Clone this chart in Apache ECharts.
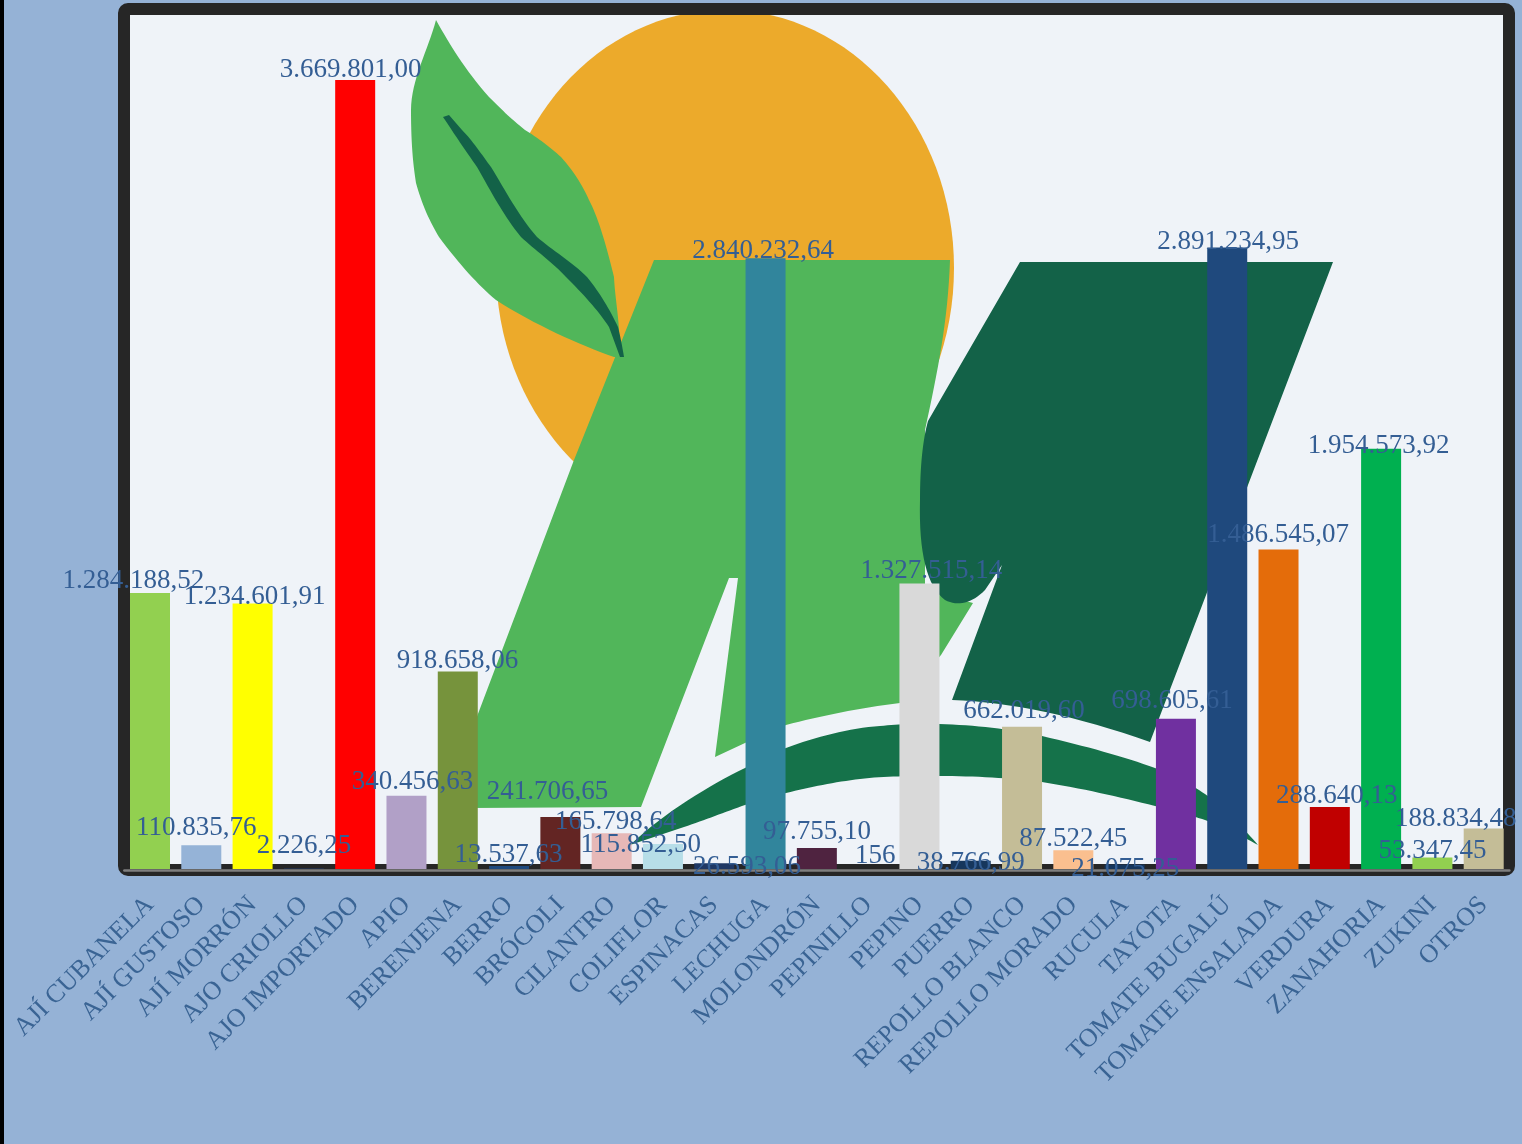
<!DOCTYPE html>
<html><head><meta charset="utf-8">
<style>html,body{margin:0;padding:0;background:#95B2D6;overflow:hidden}#c{width:1522px;height:1144px}</style>
<script src="https://cdn.jsdelivr.net/npm/echarts@6/dist/echarts.min.js"></script>
</head><body><div id="c"></div>
<script>
const categories = ['AJÍ CUBANELA','AJÍ GUSTOSO','AJÍ MORRÓN','AJO CRIOLLO','AJO IMPORTADO','APIO','BERENJENA','BERRO','BRÓCOLI','CILANTRO','COLIFLOR','ESPINACAS','LECHUGA','MOLONDRÓN','PEPINILLO','PEPINO','PUERRO','REPOLLO BLANCO','REPOLLO MORADO','RUCULA','TAYOTA','TOMATE BUGALÚ','TOMATE ENSALADA','VERDURA','ZANAHORIA','ZUKINI','OTROS'];
const values = [1284188.52,110835.76,1234601.91,2226.25,3669801.00,340456.63,918658.06,13537.63,241706.65,165798.64,115852.50,26593.06,2840232.64,97755.10,156,1327515.14,38766.99,662019.60,87522.45,21075.25,698605.61,2891234.95,1486545.07,288640.13,1954573.92,53347.45,188834.48];
const valueLabels = ['1.284.188,52','110.835,76','1.234.601,91','2.226,25','3.669.801,00','340.456,63','918.658,06','13.537,63','241.706,65','165.798,64','115.852,50','26.593,06','2.840.232,64','97.755,10','156','1.327.515,14','38.766,99','662.019,60','87.522,45','21.075,25','698.605,61','2.891.234,95','1.486.545,07','288.640,13','1.954.573,92','53.347,45','188.834,48'];
const barColors = ['#92D050','#95B3D7','#FFFF00','#1F3864','#FF0000','#B1A0C7','#76933C','#1F497D','#632523','#E6B8B7','#B7DEE8','#1F3864','#31859C','#4F2340','#1F3864','#D9D9D9','#16365C','#C4BD97','#FABF8F','#16365C','#7030A0','#1F497D','#E46C0A','#C00000','#00B050','#92D050','#C4BD97'];
// label displacement as laid out in the source chart
const labelDx = [-16.5,-5,2,0,-4.6,6,-0.2,-0.5,-12.8,4,-22.3,32.8,-2.5,0.2,7,12,0,2,0,0.6,-4,1,-0.3,7,-2.5,0,-28];
const labelDy = [0,-5,5,-11,2,-2,1,1,-13,1,13,16,5,-4,-1,-1,14,-4,1,16,-6,7,-2,1,9,5,3];

// decorative logo behind the plot
const logoOrange = '#ECAA2B', logoLeaf = '#51B65A', logoDark = '#136248', logoArc = '#15724A';
const leafPath = 'M436 20 C 428 50 411 80 411 110 C 411 150 414 170 416 183 C 422 205 430 222 439 237 C 460 265 478 285 496 300 C 535 325 580 345 614 357 L 620 357 C 620 320 615 300 614 277 C 605 240 597 215 589 200 C 580 180 570 167 561 157 C 550 147 538 138 525 130 C 510 118 500 108 489 97 C 465 70 450 45 436 20 Z';
const veinPath = 'M443 117 C 455 135 465 150 477 167 C 490 190 505 218 521 237 C 535 250 552 262 566 277 C 582 293 598 310 609 327 L 620 357 L 624 357 C 622 345 620 335 618 327 C 610 310 600 293 587 277 C 572 262 552 250 537 237 C 520 218 505 190 491 167 C 482 155 472 140 462 130 L 449 115 Z';
const bigGreenPath = 'M654 260 L950 260 C 948 320 938 370 925 430 L925 590 L973 603 L941 655 L900 703 C 860 708 820 716 786 725 L745 743 L715 757 L738 578 L729 578 L641 807 L470 808 L470 735 L574 460 Z';
const darkPath = 'M1020 262 L1333 262 L1150 742 Q 1040 703 952 700 L1002 565 L985 590 Q 965 610 945 600 Q 918 580 920 500 Q 920 450 928 421 Z';
const arcPath = 'M630 845 C 665 812 710 785 745 768 C 760 760 775 752 786 748 C 815 737 850 728 880 726 C 900 724 920 723 939 724 C 975 725 1010 729 1042 736 C 1085 746 1125 757 1155 768 C 1175 776 1190 784 1205 794 C 1225 808 1245 830 1258 845 C 1240 835 1222 826 1205 820 C 1190 815 1172 810 1155 806 C 1120 797 1080 788 1042 782 C 1010 778 975 776 939 776 C 910 776 885 776 860 779 C 835 782 810 787 786 793 C 772 797 758 801 745 805 C 725 812 705 820 684 827 Z';

function flatten(d){
  const t = d.match(/[MLCQZ]|-?[\d.]+/g); const pts=[]; let i=0,c=null,x=0,y=0;
  const n=()=>parseFloat(t[i++]);
  while(i<t.length){
    if(/[MLCQZ]/.test(t[i])) c=t[i++];
    if(c==='Z') break;
    if(c==='M'||c==='L'){x=n();y=n();pts.push([x,y]);}
    else if(c==='Q'){const a=n(),b=n(),e=n(),f=n();
      for(let k=1;k<=16;k++){const s=k/16,r=1-s;pts.push([r*r*x+2*r*s*a+s*s*e,r*r*y+2*r*s*b+s*s*f]);}x=e;y=f;}
    else if(c==='C'){const a=n(),b=n(),p=n(),q=n(),e=n(),f=n();
      for(let k=1;k<=16;k++){const s=k/16,r=1-s;pts.push([r*r*r*x+3*r*r*s*a+3*r*s*s*p+s*s*s*e,r*r*r*y+3*r*r*s*b+3*r*s*s*q+s*s*s*f]);}x=e;y=f;}
  }
  return pts;
}
const shape = (points,fill)=>({type:'polygon',z:0,silent:true,shape:{points},style:{fill}});

const chart = echarts.init(document.getElementById('c'), null, {renderer:'canvas'});
chart.setOption({
  animation:false,
  backgroundColor:'#95B2D6',
  grid:{left:124.35,width:1385,top:9,height:860},
  xAxis:{type:'category',data:categories,offset:1,
    axisLine:{show:true,onZero:false,lineStyle:{color:'#7F7F7F',width:2.5}},
    axisTick:{show:false},
    axisLabel:{rotate:45,interval:0,margin:31,color:'#3A6494',fontFamily:'"Liberation Serif",serif',fontSize:26}},
  yAxis:{type:'value',min:0,max:4000000,show:false,splitLine:{show:false}},
  graphic:[
    {type:'rect',z:0,silent:true,shape:{x:0,y:0,width:4,height:1144},style:{fill:'#000'}},
    {type:'rect',z:0,silent:true,shape:{x:124,y:9,width:1385,height:861},style:{fill:'#EFF3F8'}},
    {type:'ellipse',z:0,silent:true,shape:{cx:725,cy:268,rx:229,ry:258},style:{fill:logoOrange}},
    shape(flatten(bigGreenPath),logoLeaf),
    shape(flatten(arcPath),logoArc),
    shape(flatten(darkPath),logoDark),
    shape(flatten(leafPath),logoLeaf),
    shape(flatten(veinPath),logoDark),
    {type:'rect',z:0,silent:true,shape:{x:124,y:9,width:1385,height:861,r:4},style:{fill:'none',stroke:'#262626',lineWidth:12}}
  ],
  series:[{type:'bar',barWidth:40,
    data:values.map((v,i)=>({value:v,itemStyle:{color:barColors[i]},
      label:{offset:[labelDx[i],labelDy[i]],formatter:valueLabels[i]}})),
    label:{show:true,position:'top',distance:-1.5,color:'#345E94',fontFamily:'"Liberation Serif",serif',fontSize:27}
  }]
});
</script></body></html>
